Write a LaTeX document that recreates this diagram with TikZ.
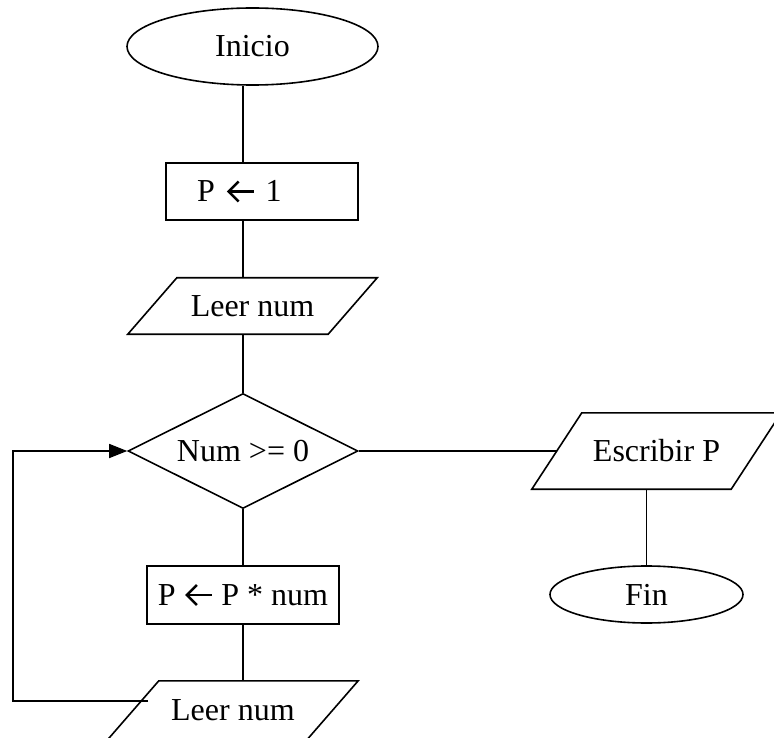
\documentclass[tikz,border=0pt]{standalone}
\usepackage{fontspec}
\setmainfont{Liberation Serif}
\usetikzlibrary{shapes.geometric,arrows.meta}
\newcommand\ioframe[2]{\draw[conn] ([xshift=#2]#1.north west) -- ([xshift=#2]#1.north east) -- ([xshift=-#2]#1.south east) -- ([xshift=-#2]#1.south west) -- cycle;}
\newcommand\getsarrow{\tikz[baseline=0pt]{\draw[line width=2.6pt, line cap=butt, {Straight Barb[length=10pt,width=20pt]}-] (0pt,10.5pt) -- (27pt,10.5pt);}}
\begin{document}
\begin{tikzpicture}[x=1pt,y=-1pt,
  base/.style={draw, line width=1.6pt, font=\fontsize{32}{38}\selectfont, inner sep=0pt},
  term/.style={base, ellipse},
  proc/.style={base, rectangle},
  dec/.style={base, diamond, aspect=2},
  iobody/.style={font=\fontsize{32}{38}\selectfont, inner sep=0pt, rectangle},
  conn/.style={line width=1.6pt},
  loop/.style={conn, -{Triangle[length=18pt,width=14pt]}}
]
\useasboundingbox (0,0) rectangle (774,738);
\coordinate (spine) at (243,0);

\node[term, minimum width=251pt, minimum height=77pt] (inicio) at (252.5,46.5) {Inicio};
\node[proc, minimum width=192pt, minimum height=57pt, inner xsep=31pt, text width=130pt, align=left] (p1) at (262,191.5) {P \getsarrow{} 1};
\node[iobody, minimum width=200pt, minimum height=56pt] (leer1) at (252.5,306) {Leer num};
\node[dec, minimum width=230pt, minimum height=115pt] (cond) at (243,451) {Num >= 0};
\node[proc, minimum width=192pt, minimum height=58pt] (calc) at (243,595) {P \getsarrow{} P * num};
\node[iobody, minimum width=199pt, minimum height=58.5pt] (leer2) at (232.9,710.25) {Leer num};
\node[iobody, minimum width=199pt, minimum height=76pt] (esc) at (656.5,451) {Escribir P};
\node[term, minimum width=193pt, minimum height=57pt] (fin) at (646.5,594.5) {Fin};

\ioframe{leer1}{24.5pt}
\ioframe{leer2}{25.6pt}
\ioframe{esc}{25pt}

\coordinate (loopA) at (148,701);
\coordinate (loopL) at (13,451);

\draw[conn] (inicio.south -| spine) -- (p1.north -| spine);
\draw[conn] (p1.south -| spine) -- (leer1.north -| spine);
\draw[conn] (leer1.south -| spine) -- (cond.north);
\draw[conn] (cond.south) -- (calc.north);
\draw[conn] (calc.south) -- (leer2.north -| spine);
\draw[conn] (cond.east) -- (esc.west);
\draw[conn] (fin.north |- esc.south) -- (fin.north);
\draw[loop] (loopA) -| (loopL) -- (cond.west);
\end{tikzpicture}
\end{document}
